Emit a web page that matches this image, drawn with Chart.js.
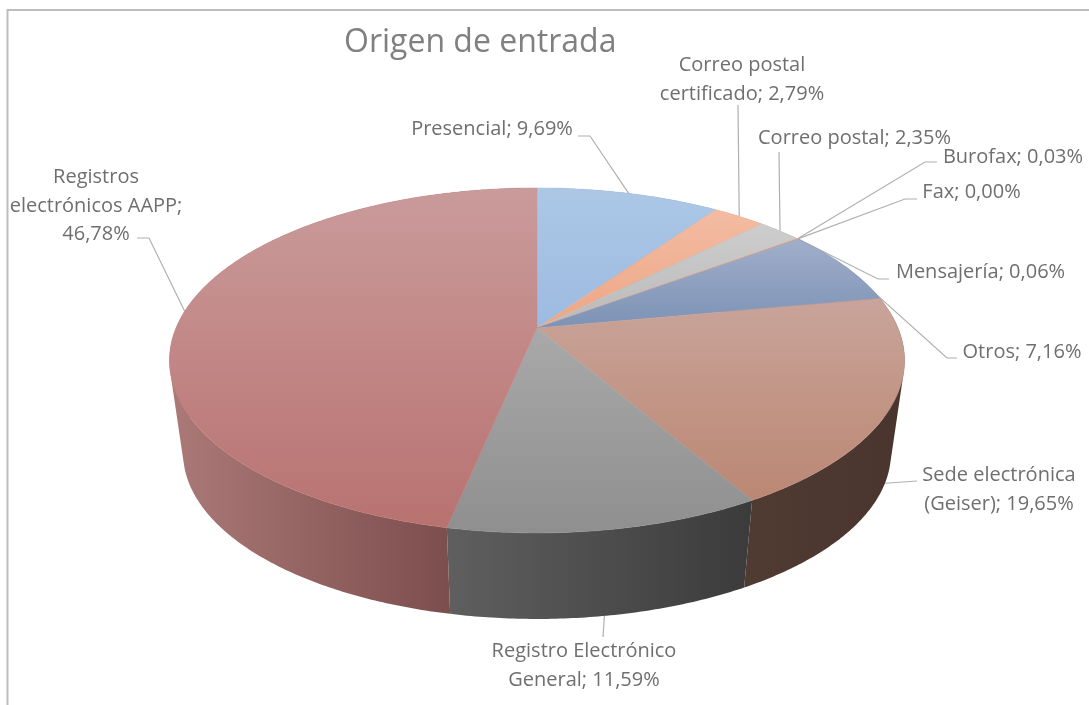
<!DOCTYPE html>
<html lang="es">
<head>
<meta charset="utf-8">
<title>Origen de entrada</title>
<script src="https://cdn.jsdelivr.net/npm/chart.js@4"></script>
<style>
html,body{margin:0;padding:0;background:#fff;overflow:hidden}
canvas{display:block;filter:blur(0.45px)}
</style>
</head>
<body>
<canvas id="c" width="1089" height="705"></canvas>
<script>
// ---- data ----
const titleText = "Origen de entrada";
const categories = ["Presencial","Correo postal certificado","Correo postal","Burofax","Fax","Mensajería","Otros","Sede electrónica (Geiser)","Registro Electrónico General","Registros electrónicos AAPP"];
const shares = [9.69,2.79,2.35,0.03,0.00,0.06,7.16,19.65,11.59,46.78];

// ---- styles ----
const topFrom  = ["#acc7e6","#f3bca3","#cdcdcd","#e8a987","#e0b080","#d8a090","#a0aeca","#c9a49a","#a9a9a9","#ca9b9b"];
const topTo    = ["#9dbbe1","#eda684","#bababa","#e8a987","#e0b080","#d8a090","#7c92b5","#bb8773","#8f8f8f","#b87270"];
const sideFrom = ["#6f8bb0","#b57f66","#8a8a8a","#a07050","#a07050","#a07050","#56657f","#503b33","#5f5f5f","#ab7a78"];
const sideTo   = ["#6f8bb0","#b57f66","#8a8a8a","#a07050","#a07050","#a07050","#56657f","#4a342e","#3b3b3b","#7c4e4d"];
const labelFont = '20px "Open Sans"';
const titleFont = '32px "Open Sans"';
const labelColor = "#6f6f6f";
const titleColor = "#808080";
const leaderColor = "#b0b0b0";
const frameColor = "#bdbdbd";

// ---- 3D projection of the pie (relative to the arc's own centre and radius) ----
const persp = 0.188, spanX = 1.1006, spanY = 0.5073, dropY = 0.2854, baseScale = 0.963;
function project(el, a, t) {
  const R = el.outerRadius, c = Math.cos(a), s = Math.sin(a), w = 1 - persp * s;
  const X = spanX * R * c / w, Y = spanY * R * s / w;
  const sc = 1 + (baseScale - 1) * t;
  return [el.x + X * sc, el.y + dropY * R * t + Y * sc];
}
function rim(el, t) {
  const pts = [], n = Math.max(1, Math.ceil((el.endAngle - el.startAngle) / 0.01));
  for (let i = 0; i <= n; i++) pts.push(project(el, el.startAngle + (el.endAngle - el.startAngle) * i / n, t));
  return pts;
}
function extent(pts, k) {
  const v = pts.map(p => p[k]);
  return [Math.min(...v), Math.max(...v)];
}
function area(q) {
  let s = 0;
  q.forEach((p, i) => { const n = q[(i + 1) % q.length]; s += p[0] * n[1] - n[0] * p[1]; });
  return s;
}

// top surface of a slice: the library's own arc element, projected
Chart.elements.ArcElement.prototype.draw = function (ctx) {
  const i = this.$context.dataIndex;
  if (this.endAngle - this.startAngle <= 0) return;
  const pts = rim(this, 0);
  const all = pts.concat([[this.x, this.y]]);
  const [y0, y1] = extent(all, 1);
  const g = ctx.createLinearGradient(0, y0, 0, y1 + 0.01);
  g.addColorStop(0, topFrom[i]);
  g.addColorStop(1, topTo[i]);
  ctx.save();
  ctx.beginPath();
  ctx.moveTo(this.x, this.y);
  pts.forEach(p => ctx.lineTo(p[0], p[1]));
  ctx.closePath();
  ctx.fillStyle = g;
  ctx.strokeStyle = g;
  ctx.lineWidth = 0.5;
  ctx.fill();
  ctx.stroke();
  ctx.restore();
};

// ---- label layout: x, baseline of first line, wrap width, elbow points, wall fraction of the anchor ----
const labelX      = [492, 742, 854.5, 1013, 971.5, 980.5, 1022, 999, 584, 96];
const labelY      = [135, 71, 144, 163, 198, 278, 358, 481, 657, 183];
const labelWrap   = [0, 195, 0, 0, 0, 0, 0, 195, 195, 195];
const elbows = [
  [[578,136],[590,136]],
  [[738,105]],
  [[779,152]],
  [[937,162],[925,162]],
  [[917,199],[905,199]],
  [[889,279],[878,279]],
  [[957,358],[947,358]],
  [[917,481]],
  [[603,637]],
  [[137,238],[149,238]]
];
const anchorWall = [0,0,0,0,0,0,0,0.88,1,0];
const lineGap = 28.5;

function labelLines(ctx, i) {
  const text = categories[i] + "; " + shares[i].toFixed(2).replace(".", ",") + "%";
  if (!labelWrap[i]) return [text];
  const lines = []; let cur = "";
  text.split(" ").forEach(w => {
    const t = cur ? cur + " " + w : w;
    if (cur && ctx.measureText(t).width > labelWrap[i]) { lines.push(cur); cur = w; } else cur = t;
  });
  lines.push(cur);
  return lines;
}

const pie3d = {
  id: "pie3d",
  beforeDraw(chart) {
    const c = chart.ctx;
    c.save();
    c.fillStyle = "#fff";
    c.fillRect(0, 0, chart.width, chart.height);
    c.strokeStyle = frameColor;
    c.lineWidth = 2;
    c.beginPath();
    c.moveTo(7.5, chart.height);
    c.lineTo(7.5, 10);
    c.lineTo(chart.width, 10);
    c.stroke();
    c.restore();
  },
  beforeDatasetsDraw(chart) {
    const c = chart.ctx, arcs = chart.getDatasetMeta(0).data;
    c.save();
    // leader lines sit behind the pie
    c.strokeStyle = leaderColor;
    c.lineWidth = 1.2;
    arcs.forEach((el, i) => {
      const p = project(el, (el.startAngle + el.endAngle) / 2, anchorWall[i]);
      c.beginPath();
      elbows[i].forEach((q, k) => k ? c.lineTo(q[0], q[1]) : c.moveTo(q[0], q[1]));
      c.lineTo(p[0], p[1]);
      c.stroke();
    });
    // outer wall of each slice: one path made of same-direction quads between the two rims
    arcs.forEach((el, i) => {
      if (el.endAngle - el.startAngle <= 0) return;
      const a = rim(el, 0), b = rim(el, 1);
      const visible = a.filter((p, k) => Math.sin(el.startAngle + (el.endAngle - el.startAngle) * k / (a.length - 1)) > -0.05);
      const [x0, x1] = extent(visible.length > 1 ? visible : a, 0);
      const g = c.createLinearGradient(x0, 0, x1 + 0.01, 0);
      g.addColorStop(0, sideFrom[i]);
      g.addColorStop(1, sideTo[i]);
      c.fillStyle = g;
      c.beginPath();
      for (let k = 0; k + 1 < a.length; k++) {
        let q = [a[k], a[k + 1], b[k + 1], b[k]];
        if (area(q) < 0) q = q.reverse();
        q.forEach((p, n) => n ? c.lineTo(p[0], p[1]) : c.moveTo(p[0], p[1]));
        c.closePath();
      }
      c.fill();
    });
    c.restore();
  },
  afterDatasetsDraw(chart) {
    const c = chart.ctx;
    c.save();
    c.textBaseline = "alphabetic";
    c.font = titleFont;
    c.fillStyle = titleColor;
    c.textAlign = "left";
    c.fillText(titleText, 344, 52);
    c.font = labelFont;
    c.fillStyle = labelColor;
    c.textAlign = "center";
    categories.forEach((_, i) => {
      labelLines(c, i).forEach((ln, k) => c.fillText(ln, labelX[i], labelY[i] + k * lineGap));
    });
    c.restore();
  }
};

new Chart(document.getElementById("c"), {
  type: "pie",
  data: { labels: categories, datasets: [{ data: shares, backgroundColor: topTo, borderWidth: 0 }] },
  options: {
    responsive: false,
    animation: false,
    layout: { padding: { left: 0, right: 15, top: 0, bottom: 49 } },
    plugins: { legend: { display: false }, title: { display: false }, tooltip: { enabled: false } }
  },
  plugins: [pie3d]
});
</script>
</body>
</html>
